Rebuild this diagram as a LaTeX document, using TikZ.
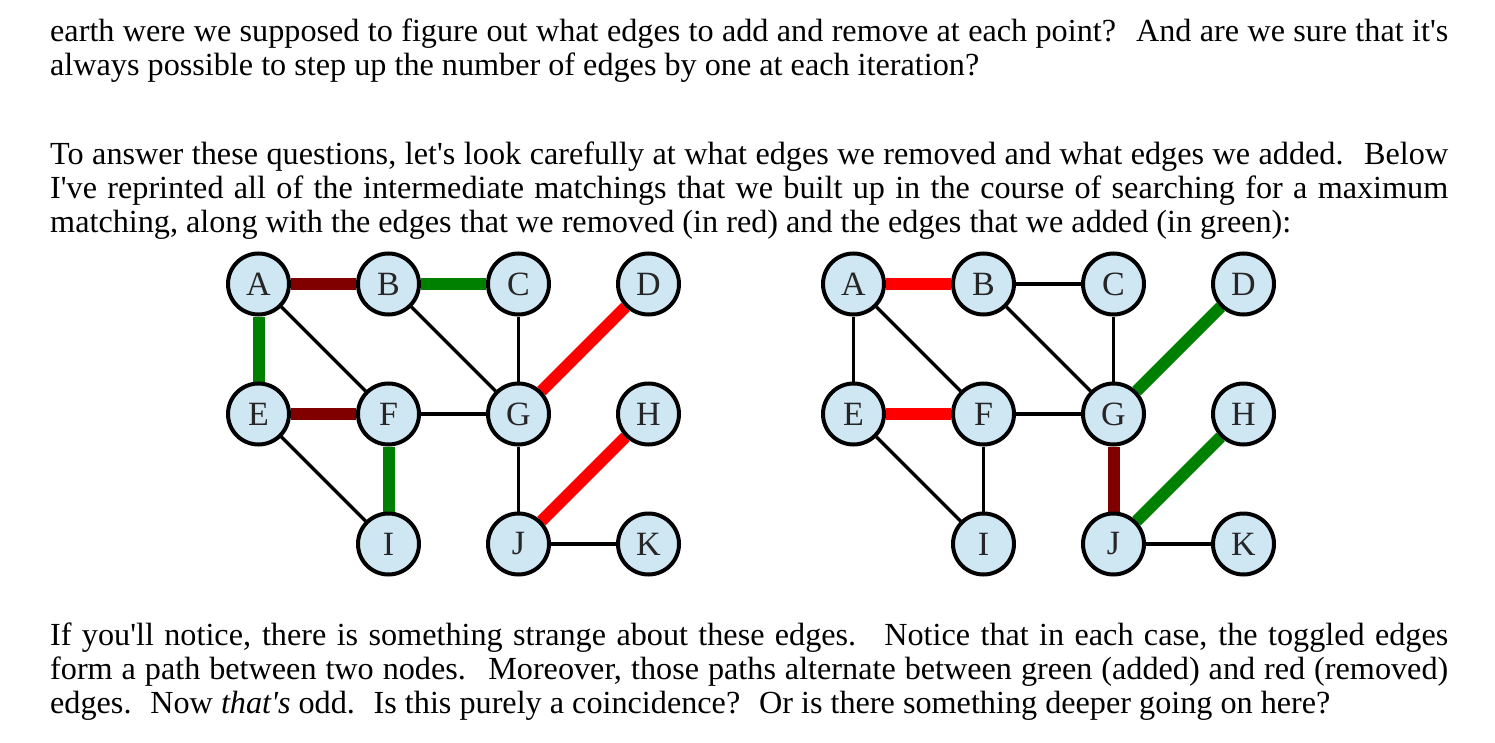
\documentclass[tikz,border=0pt]{standalone}
\usepackage{fontspec}
\setmainfont{Liberation Serif}[Ligatures=TeXOff]
\usetikzlibrary{backgrounds}

\definecolor{vertexfill}{RGB}{207,230,243}
\definecolor{addedgreen}{RGB}{0,128,0}
\definecolor{removedred}{RGB}{255,0,0}
\definecolor{oldmaroon}{RGB}{128,0,0}

\tikzset{
	vertex/.style={circle, draw=black, line width=4pt, fill=vertexfill, minimum size=61pt, inner sep=0pt, text=black!85, font=\fontsize{34}{34}\selectfont},
	plainedge/.style={line width=3.5pt, black},
	greenedge/.style={line width=12pt, addedgreen},
	rededge/.style={line width=12pt, removedred},
	maroonedge/.style={line width=12pt, oldmaroon},
	textline/.style={anchor=base west, inner sep=0pt, font=\fontsize{32.2}{34}\selectfont},
}
\newcommand{\fullline}[1]{\makebox[1398pt][s]{#1}}

\begin{document}
\begin{tikzpicture}[x=1pt, y=-1pt]
	\useasboundingbox (0,0) rectangle (1495,743);

	% text above the graphs
	\node[textline] (top1) at (50,42) {\fullline{earth were we supposed to figure out what edges to add and remove at each point?~ And are we sure that it's}};
	\node[textline] (top2) at (50,76) {always possible to step up the number of edges by one at each iteration?};
	\node[textline] (mid1) at (50,165) {\fullline{To answer these questions, let's look carefully at what edges we removed and what edges we added.~ Below}};
	\node[textline] (mid2) at (50,199) {\fullline{I've reprinted all of the intermediate matchings that we built up in the course of searching for a maximum}};
	\node[textline] (mid3) at (50,233) {matching, along with the edges that we removed (in red) and the edges that we added (in green):};

	% the two graphs
	\foreach \g/\dx in {l/0,r/595}{
		\foreach \n/\i/\j in {A/0/0,B/1/0,C/2/0,D/3/0,E/0/1,F/1/1,G/2/1,H/3/1,I/1/2,J/2/2,K/3/2}
			\node[vertex] (\g\n) at (258.5+\dx+130*\i, 284+130*\j) {\n};
	}

	\begin{pgfonlayer}{background}
		\foreach \g in {l,r}
			\foreach \a/\b in {A/F,B/G,C/G,F/G,E/I,J/K}
				\draw[plainedge] (\g\a) -- (\g\b);
		% left
		\draw[plainedge] (lG) -- (lJ);
		\draw[maroonedge] (lA) -- (lB);
		\draw[maroonedge] (lE) -- (lF);
		\draw[greenedge] (lB) -- (lC);
		\draw[greenedge] (lA) -- (lE);
		\draw[greenedge] (lF) -- (lI);
		\draw[rededge] (lG) -- (lD);
		\draw[rededge] (lJ) -- (lH);
		% right
		\draw[plainedge] (rB) -- (rC);
		\draw[plainedge] (rA) -- (rE);
		\draw[plainedge] (rF) -- (rI);
		\draw[rededge] (rA) -- (rB);
		\draw[rededge] (rE) -- (rF);
		\draw[greenedge] (rG) -- (rD);
		\draw[greenedge] (rJ) -- (rH);
		\draw[maroonedge] (rG) -- (rJ);
	\end{pgfonlayer}

	% text below the graphs
	\node[textline] (low1) at (50,645) {\fullline{If you'll notice, there is something strange about these edges.~ Notice that in each case, the toggled edges}};
	\node[textline] (low2) at (50,679) {\fullline{form a path between two nodes.~ Moreover, those paths alternate between green (added) and red (removed)}};
	\node[textline] (low3) at (50,713) {edges.~ Now \textit{that's} odd.~ Is this purely a coincidence?~ Or is there something deeper going on here?};
\end{tikzpicture}
\end{document}
